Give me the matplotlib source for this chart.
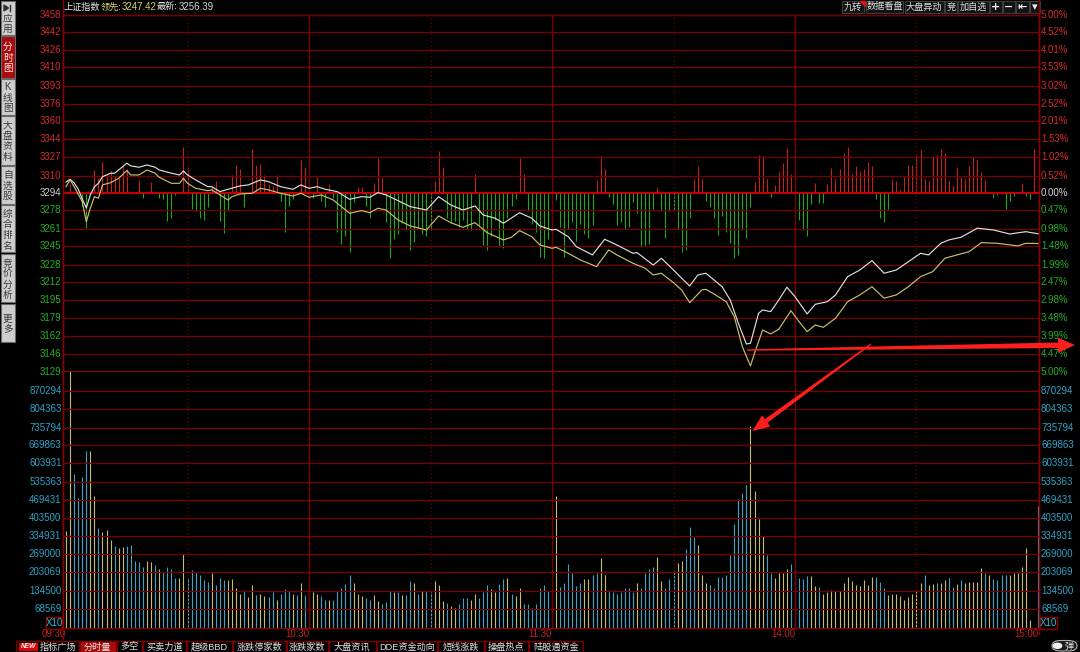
import matplotlib
matplotlib.use('Agg')
import matplotlib.pyplot as plt
from matplotlib.patches import Rectangle, Polygon, FancyBboxPatch, Circle
from matplotlib.lines import Line2D
from matplotlib.transforms import blended_transform_factory
import numpy as np

FONT = ['Liberation Sans', 'Noto Sans CJK SC', 'DejaVu Sans']
plt.rcParams['font.family'] = FONT

# ---------------- data ----------------
index_name = '上证指数'
lead_value = 3247.42
last_value = 3256.39
prev_close = 3294.0

price_ticks = [3458, 3442, 3426, 3410, 3393, 3376, 3360, 3344, 3327, 3310, 3294,
               3278, 3261, 3245, 3228, 3212, 3195, 3179, 3162, 3146, 3129]
pct_labels = ['5.00%', '4.52%', '4.01%', '3.53%', '3.02%', '2.52%', '2.01%', '1.53%', '1.02%', '0.52%', '0.00%',
              '0.47%', '0.98%', '1.48%', '1.99%', '2.47%', '2.98%', '3.48%', '3.99%', '4.47%', '5.00%']
vol_ticks = [870294, 804363, 735794, 669863, 603931, 535363, 469431, 403500,
             334931, 269000, 203069, 134500, 68569]
time_ticks = [0, 60, 120, 180, 240]
time_labels = ['09:30', '10:30', '11:30', '14:00', '15:00']
solid_minutes = [60, 120, 180]
dotted_minutes = [30, 90, 150, 210]

# index line (white) : minute since 09:30 (trading minutes), price
white_t = [0, 1, 2, 3, 4, 5, 6, 7, 8, 9, 11, 12, 13, 15, 16, 18, 20, 22, 23, 26, 28, 29, 30, 32, 35, 36,
           38, 40, 43, 45, 48, 50, 53, 56, 58, 60, 62, 64, 67, 70, 73, 75, 77, 79, 82, 85, 89, 92, 95,
           98, 101, 103, 106, 108, 109, 112, 115, 117, 120, 121, 124, 126, 130, 133, 136, 140, 141,
           145, 147, 150, 152, 154, 156, 158, 160, 162, 164, 166, 168, 169, 171, 172, 174, 176, 178,
           180, 183, 185, 188, 190, 193, 196, 199, 202, 205, 208, 211, 213, 216, 218, 221, 225, 229,
           233, 237, 240]
white_p = [3304.1, 3306.6, 3303.2, 3297.5, 3288.5, 3280.2, 3292.2, 3299.8, 3302.9, 3309.0, 3312.2,
           3312.2, 3315.2, 3321.4, 3318.9, 3317.7, 3319.8, 3317.7, 3315.2, 3312.2, 3310.6, 3314.3,
           3310.6, 3306.0, 3299.8, 3299.8, 3295.2, 3297.4, 3300.5, 3301.4, 3306.0, 3304.4, 3299.8,
           3297.4, 3301.4, 3298.3, 3299.8, 3297.4, 3295.2, 3288.2, 3290.6, 3290.0, 3294.3, 3292.2,
           3286.9, 3281.4, 3278.3, 3290.6, 3282.9, 3278.3, 3282.0, 3273.7, 3270.7, 3266.1, 3268.5,
           3275.8, 3270.7, 3263.6, 3259.9, 3260.5, 3253.7, 3244.5, 3236.9, 3251.3, 3246.1, 3238.4,
           3239.0, 3227.6, 3233.8, 3223.0, 3215.4, 3208.3, 3218.4, 3220.0, 3213.8, 3207.6, 3195.4,
           3173.9, 3154.8, 3155.5, 3183.1, 3186.2, 3184.6, 3195.4, 3207.1, 3198.4, 3182.5, 3191.4,
           3193.8, 3200.0, 3216.9, 3223.0, 3231.6, 3220.0, 3223.0, 3230.7, 3238.4, 3236.9, 3247.6,
           3250.7, 3253.2, 3261.5, 3259.9, 3256.2, 3258.3, 3256.39]

# leading line (yellow)
yellow_t = [0, 1, 2, 4, 5, 6, 7, 8, 9, 11, 13, 15, 16, 18, 20, 22, 23, 26, 28, 29, 30, 32, 35, 36, 38,
            40, 41, 43, 46, 48, 50, 53, 56, 58, 60, 63, 66, 68, 70, 73, 75, 77, 79, 82, 85, 89, 92, 95,
            98, 101, 104, 108, 110, 112, 115, 117, 120, 121, 124, 127, 131, 134, 136, 140, 143, 145,
            147, 150, 152, 154, 157, 158, 160, 163, 165, 167, 169, 170, 172, 174, 176, 179, 181, 183,
            185, 187, 190, 193, 196, 199, 202, 205, 208, 211, 214, 217, 220, 223, 226, 230, 235, 237, 240]
yellow_p = [3299.8, 3306.0, 3299.8, 3286.0, 3267.5, 3279.9, 3290.6, 3289.1, 3301.4, 3303.5, 3307.5,
            3314.6, 3310.6, 3310.6, 3315.2, 3312.2, 3308.5, 3302.9, 3302.9, 3307.5, 3302.9, 3298.3,
            3296.1, 3296.8, 3292.2, 3287.5, 3290.6, 3293.1, 3293.7, 3298.3, 3296.8, 3293.7, 3291.2,
            3293.7, 3290.0, 3292.2, 3287.5, 3281.4, 3275.3, 3277.7, 3275.8, 3279.9, 3278.3, 3269.1,
            3263.6, 3259.9, 3272.8, 3266.6, 3262.4, 3266.6, 3257.4, 3250.7, 3253.2, 3259.3, 3253.7,
            3246.1, 3243.0, 3244.0, 3238.4, 3232.3, 3226.1, 3241.5, 3236.9, 3229.2, 3224.6, 3218.4,
            3220.0, 3211.3, 3204.6, 3192.9, 3204.6, 3205.2, 3200.9, 3193.8, 3180.0, 3152.3, 3134.6,
            3146.3, 3167.7, 3164.1, 3168.4, 3185.5, 3175.4, 3166.2, 3172.3, 3170.2, 3178.5, 3193.8,
            3200.0, 3207.6, 3197.0, 3200.0, 3207.6, 3216.9, 3221.5, 3233.8, 3236.9, 3239.9, 3248.2,
            3247.6, 3245.2, 3247.6, 3247.42]

# red/green strength bars, one per minute (index points above / below previous close)
force = [0, 9, 0, 0, -13, -35, 0, 23, 15, 31, 19, 22, 18, 15, 27, 24, -1, 0, 13, -5,
         0, 11, 0, -5, -6, -28, -25, -2, 0, 46, 26, -16, -18, -25, -27, -14, 6, 12, -28, -40,
         -18, 18, 28, 24, -14, 0, 44, 28, 29, 18, 9, 7, 18, -8, -39, -13, -6, 0, 33, 26,
         -22, -5, 16, -8, -14, 9, -5, -39, -51, -43, -59, -9, 6, 6, -13, -25, 10, 35, 15, -29,
         -65, -46, -41, -30, -37, -57, -49, -36, -41, -43, -37, 12, 42, 26, -25, -30, -28, -34, -27, -36,
         -37, 19, -32, -52, -57, -43, -27, -54, -55, -25, -13, -6, 35, 19, -18, -31, -39, -64, -65, -46,
         -2, -7, -34, -64, -36, -29, -48, -31, -41, -45, -32, 13, 37, 24, -4, -11, -32, -29, -36, -34,
         -9, -20, -54, -53, -51, -16, 6, -18, -45, -18, -17, -36, -59, -57, -25, 14, 27, 14, -8, -14,
         -25, -42, -23, -39, -50, -65, -62, -37, -45, -14, 11, 38, 37, 14, -4, 8, 21, 30, 45, 19,
         -22, -27, -37, -43, -11, 10, -10, -10, 9, 25, 14, 24, 40, 46, 19, 27, 22, 24, 31, 27,
         -6, -25, -29, -16, 14, 12, 3, 16, 28, 28, 38, 43, 14, 12, 36, 38, 44, 40, 13, 7,
         26, 16, 14, 27, 36, 34, 21, 13, 1, -5, -2, -1, -16, -8, -3, 1, 10, -3, -6, 44,
         0]

# volume per minute, thousands
volume_k = [356, 960, 563, 475, 552, 651, 651, 483, 365, 353,
            359, 321, 299, 294, 297, 299, 303, 246, 242, 224,
            246, 242, 230, 217, 205, 224, 214, 181, 181, 270,
            181, 212, 205, 193, 174, 168, 199, 156, 181, 174,
            174, 177, 144, 123, 137, 113, 156, 119, 125, 115,
            113, 129, 103, 125, 140, 135, 125, 119, 165, 119,
            119, 129, 123, 115, 101, 103, 101, 135, 144, 160,
            193, 162, 125, 115, 107, 103, 119, 98, 86, 95,
            135, 129, 129, 119, 119, 172, 162, 123, 135, 135,
            131, 172, 156, 98, 91, 79, 70, 88, 107, 107,
            103, 123, 107, 129, 156, 140, 129, 160, 177, 181,
            125, 115, 144, 86, 86, 70, 88, 144, 156, 135,
            140, 483, 150, 165, 233, 201, 152, 165, 177, 177,
            193, 201, 254, 193, 137, 129, 125, 131, 144, 147,
            131, 162, 147, 201, 214, 221, 258, 172, 144, 177,
            211, 236, 246, 287, 371, 334, 303, 193, 165, 156,
            144, 184, 187, 193, 266, 381, 471, 496, 524, 742,
            503, 401, 336, 266, 201, 181, 199, 199, 214, 233,
            214, 181, 177, 189, 189, 152, 150, 125, 129, 137,
            135, 135, 162, 184, 172, 156, 152, 174, 156, 184,
            187, 168, 144, 119, 125, 123, 115, 103, 113, 125,
            135, 165, 193, 156, 160, 162, 165, 174, 181, 150,
            160, 174, 162, 168, 168, 168, 218, 199, 193, 177,
            174, 193, 193, 193, 199, 201, 224, 294, 27, 0,
            447]
# y = minute closed up (yellow bar), c = minute closed down (cyan bar)
vol_dir = ("yyccccyycy" "yycyyccccc" "yycyccccyy" "ccccccyccc" "yyyycyycyy" "ccycccycyc"
           "cyyccycccc" "cyyyccyycc" "cycyccycyc" "cyyycyyccc" "yycccyyccy" "cyyccccccc"
           "cyccccccyy" "ccyycccccc" "cyccccyycc" "cyycccyyyc" "cccccccccy" "yyyccyyyyc"
           "ccccyycyyy" "yyyyyyyyyy" "cccyyyyyyy" "yycyycyycc" "ycyyyyycyc" "cccyyyyyyc" "c")

sidebar_labels = ['应用', '分时图', 'K线图', '大盘资料', '自选股', '综合排名', '竞价分析', '更多']
toolbar_labels = ['九转', '数据看盘', '大盘异动', '竞', '加自选', '+', '−', '⇤', '▾']
tab_labels = ['指标广场', '分时量', '多空', '买卖力道', '超级BBD', '涨跌停家数', '涨跌家数',
              '大盘资讯', 'DDE资金动向', '短线涨跌', '操盘热点', '陆股通资金']

# ---------------- layout ----------------
W, H = 1080, 652
L, R = 63, 1039
TOP, MID, BOT = 15, 372, 627.5
XMIN, XMAX = -0.75, 240.25
force_scale = 0.92

RED_TXT = '#d62a2a'
GRN_TXT = '#23b023'
CYAN_TXT = '#2ea3c6'
GRID = '#7a0000'

fig = plt.figure(figsize=(W / 100, H / 100), dpi=100)
fig.patch.set_facecolor('black')


def fx(x):
    return x / W


def fy(y):
    return 1 - y / H


def rect(x0, y0, x1, y1, **kw):
    r = Rectangle((fx(x0), fy(y1)), fx(x1) - fx(x0), fy(y0) - fy(y1),
                  transform=fig.transFigure, **kw)
    fig.add_artist(r)
    return r


def ftext(x, y, s, **kw):
    kw.setdefault('va', 'center')
    return fig.text(fx(x), fy(y), s, **kw)


def fline(x0, y0, x1, y1, **kw):
    fig.add_artist(Line2D([fx(x0), fx(x1)], [fy(y0), fy(y1)], transform=fig.transFigure, **kw))


ax_p = fig.add_axes([fx(L), fy(MID), fx(R) - fx(L), fy(TOP) - fy(MID)])
ax_v = fig.add_axes([fx(L), fy(BOT), fx(R) - fx(L), fy(MID) - fy(BOT)])
for ax in (ax_p, ax_v):
    ax.set_facecolor('black')
    ax.set_xlim(XMIN, XMAX)
    ax.set_xticks([])
    ax.set_yticks([])
    for s in ax.spines.values():
        s.set_color('#8c0000')
        s.set_linewidth(1.0)
    for m in solid_minutes:
        ax.axvline(m, color=GRID, lw=1.0, zorder=3)
    for m in dotted_minutes:
        ax.axvline(m, color='#6a0000', lw=0.9, ls=(0, (1, 2)), zorder=3)
ax_p.spines['bottom'].set_color('#b00000')
ax_p.spines['bottom'].set_linewidth(1.3)
ax_v.spines['top'].set_visible(False)

ax_p.set_ylim(3129, 3458)
ax_v.set_ylim(0, 940000)

# grids
for t in price_ticks:
    if t == price_ticks[10]:
        ax_p.axhline(t, color='#c80000', lw=1.4, zorder=3)
    else:
        ax_p.axhline(t, color=GRID, lw=0.9, zorder=3)
for v in vol_ticks:
    ax_v.axhline(v, color=GRID, lw=0.9, zorder=3)

# axis labels
tp = blended_transform_factory(ax_p.transAxes, ax_p.transData)
tv = blended_transform_factory(ax_v.transAxes, ax_v.transData)
xl = (61.5 - L) / (R - L)
xr = (1041 - L) / (R - L)
for i, (t, pl) in enumerate(zip(price_ticks, pct_labels)):
    c = RED_TXT if i < 10 else ('#d0d0d0' if i == 10 else GRN_TXT)
    ax_p.text(xl, t, str(t), transform=tp, ha='right', va='center', fontsize=7, color=c, clip_on=False)
    ax_p.text(xr, t, pl, transform=tp, ha='left', va='center', fontsize=7, color=c, clip_on=False)
for v in vol_ticks:
    ax_v.text(xl, v, str(v), transform=tv, ha='right', va='center', fontsize=7, color=CYAN_TXT, clip_on=False)
    ax_v.text(xr, v, str(v), transform=tv, ha='left', va='center', fontsize=7, color=CYAN_TXT, clip_on=False)

# strength bars
mins = np.arange(len(force))
fz = np.array(force, dtype=float)
up = fz > 0
dn = fz < 0
ax_p.vlines(mins[up], prev_close, prev_close + fz[up] * force_scale, colors='#c81e1e', lw=0.8, zorder=2)
ax_p.vlines(mins[dn], prev_close, prev_close + fz[dn] * force_scale, colors='#1ea81e', lw=0.8, zorder=2)

# price lines
ax_p.plot(white_t, white_p, color='#dedede', lw=0.85, zorder=5)
ax_p.plot(yellow_t, yellow_p, color='#c9c06a', lw=0.85, zorder=5)

# volume bars
vol = np.array(volume_k, dtype=float) * 1000
vcols = ['#c6bd72' if c == 'y' else '#37a6c6' for c in vol_dir]
ax_v.vlines(np.arange(len(vol)), 0, vol, colors=vcols, lw=0.8, zorder=2)

# time labels
tt = blended_transform_factory(ax_v.transData, ax_v.transAxes)
ya = (BOT - 634) / (BOT - MID)
for m, lab in zip(time_ticks, time_labels):
    ax_v.text(max(m, XMIN), ya, lab, transform=tt, ha='right', va='center', fontsize=7,
              color='#c82222', clip_on=False)

# frame extensions
fline(L, 0, L, 639, color='#8c0000', lw=1.0)
fline(R, 0, R, 634, color='#8c0000', lw=1.0)

# X10 boxes
for x0, x1 in ((46, 62), (1040, 1057)):
    rect(x0, 617, x1, 628.5, facecolor='black', edgecolor='#8c0000', lw=1.0)
    ftext((x0 + x1) / 2, 623, 'X10', ha='center', fontsize=7, color='#3ab6da')

# header
ftext(63, 7, index_name, fontsize=6.6, color='#e6e6e6')
ftext(101, 7, '领先:', fontsize=6.6, color='#d8d070')
ftext(122, 7, f'{lead_value:.2f}', fontsize=7, color='#d8d070')
ftext(157, 7, '最新:', fontsize=6.6, color='#e6e6e6')
ftext(179, 7, f'{last_value:.2f}', fontsize=7, color='#d0d8e0')

# toolbar (top right)
tool_x = [(842, 864.5), (865.5, 903.5), (904.5, 944), (945, 956.5), (957.5, 988.5),
          (989.5, 1001.5), (1002.5, 1015), (1016, 1028.5), (1029.5, 1039.5)]
for lab, (x0, x1) in zip(toolbar_labels, tool_x):
    rect(x0, 0.5, x1, 13, facecolor='#121212', edgecolor='#3c3c3c', lw=0.8)
    if lab in ('+', '−', '⇤', '▾'):
        ftext((x0 + x1) / 2, 7, lab, ha='center', fontsize=8, color='#f0f0f0',
              family=['DejaVu Sans'], fontweight='bold')
    else:
        ftext((x0 + x1) / 2, 7, lab, ha='center', fontsize=6.6, color='#dcdcdc')
fig.add_artist(Polygon([(fx(859.5), fy(0.5)), (fx(864.5), fy(0.5)), (fx(864.5), fy(5.5))],
                       closed=True, transform=fig.transFigure, color='#e01010'))

# left sidebar
side_y = [(0, 35), (35.5, 78), (78.5, 115), (115.5, 165), (165.5, 204), (204.5, 253), (253.5, 303), (303.5, 342)]
for i, (lab, (y0, y1)) in enumerate(zip(sidebar_labels, side_y)):
    active = (i == 1)
    rect(0.5, y0 + 0.5, 15, y1 - 0.5, facecolor='#a80c0c' if active else '#cdcdcd',
         edgecolor='#6a6a6a', lw=0.8)
    chars = list(lab)
    n = len(chars) + (1 if i == 0 else 0)
    mid = (y0 + y1) / 2 + 1
    step = 10.5
    ys = [mid + (k - (n - 1) / 2) * step for k in range(n)]
    if i == 0:
        iy = ys.pop(0)
        fig.add_artist(Polygon([(fx(4), fy(iy - 3)), (fx(4), fy(iy + 3)), (fx(8.5), fy(iy))],
                               closed=True, transform=fig.transFigure, color='#303030'))
        fline(9.5, iy - 3, 9.5, iy + 3, color='#303030', lw=1.0)
    for ch, yy in zip(chars, ys):
        ftext(7.8, yy, ch, ha='center', fontsize=7, color='#ffe8e8' if active else '#3a3a3a')

# bottom tabs
tab_x = [(16, 78.5), (79.5, 115.5), (116.5, 142), (143, 186), (187, 232), (233, 285.5),
         (286.5, 328), (329, 375.5), (376.5, 437), (438, 483.5), (484.5, 528), (529, 583)]
for i, (lab, (x0, x1)) in enumerate(zip(tab_labels, tab_x)):
    active = (i == 1)
    rect(x0, 641, x1, 653, facecolor='#a80c0c' if active else 'black', edgecolor='#7a0000', lw=1.0)
    cx = (x0 + x1) / 2 if i else 58.5
    ftext(cx, 647, lab, ha='center', fontsize=6.6, color='#e4e4e4')
rect(19.5, 643, 38, 650.5, facecolor='#e00000', edgecolor='none')
ftext(28.7, 646.8, 'NEW', ha='center', fontsize=4.8, color='white', fontweight='bold', style='italic')

# toggle at bottom right
tog = FancyBboxPatch((fx(1052), fy(651)), fx(1077) - fx(1052), fy(640.5) - fy(651),
                     boxstyle='round,pad=0,rounding_size=0.008', transform=fig.transFigure,
                     facecolor='#1a1a1a', edgecolor='#b0b0b0', lw=0.8)
fig.add_artist(tog)
fig.add_artist(Circle((fx(1057.5), fy(645.8)), 4.2 / W, transform=fig.transFigure, color='#f0f0f0'))
ftext(1069, 646, '弹', ha='center', fontsize=6.6, color='#e8e8e8')


# red annotation arrows
def tapered_arrow(x0, y0, x1, y1, w0, w1, hl, hw, color='#ff1e1e'):
    dx, dy = x1 - x0, y1 - y0
    ln = np.hypot(dx, dy)
    ux, uy = dx / ln, dy / ln
    nx, ny = -uy, ux
    bx, by = x1 - ux * hl, y1 - uy * hl
    pts = [(x0 + nx * w0 / 2, y0 + ny * w0 / 2), (bx + nx * w1 / 2, by + ny * w1 / 2),
           (bx + nx * hw, by + ny * hw), (x1, y1), (bx - nx * hw, by - ny * hw),
           (bx - nx * w1 / 2, by - ny * w1 / 2), (x0 - nx * w0 / 2, y0 - ny * w0 / 2)]
    fig.add_artist(Polygon([(fx(a), fy(b)) for a, b in pts], closed=True,
                           transform=fig.transFigure, color=color, lw=0, zorder=10))


tapered_arrow(747, 350, 1075, 345, 1.4, 5.5, 17, 7.5)
tapered_arrow(871, 344, 752.5, 431, 1.4, 4.5, 17, 7)

fig.savefig('out.png', dpi=100, facecolor='black')
